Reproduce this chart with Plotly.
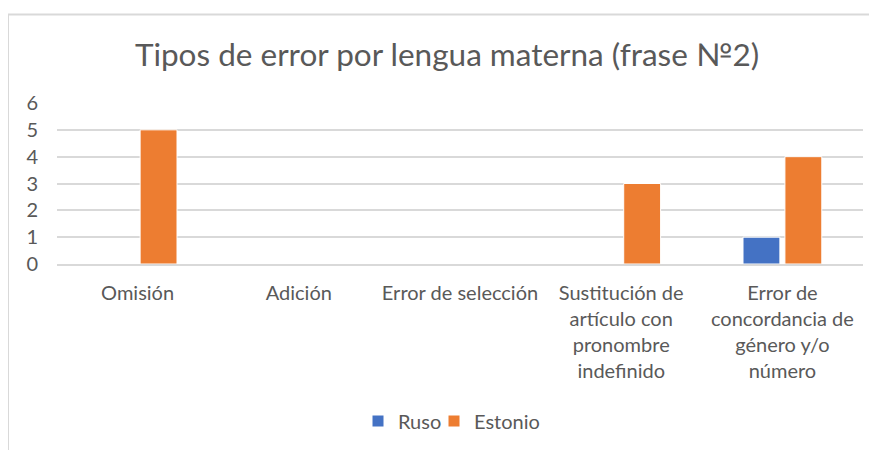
import plotly.graph_objects as go

categories = [
    "Omisión",
    "Adición",
    "Error de selección",
    "Sustitución de<br>artículo con<br>pronombre<br>indefinido",
    "Error de<br>concordancia de<br>género y/o<br>número",
]
ruso = [0, 0, 0, 0, 1]
estonio = [5, 0, 0, 3, 4]
y_ticks = [0, 1, 2, 3, 4, 5, 6]

# page offset of the figure inside the browser (body margin)
OFF = 8
W, H = 877 - OFF, 450 - OFF
# reference pixel positions of plot area
PL, PR, PT, PB = 57, 863, 103, 265
L, R, T, B = PL - OFF, W - (PR - OFF), PT - OFF, H - (PB - OFF)
pw, ph = W - L - R, H - T - B


def px_x(p):
    return (p - OFF - L) / pw


def px_y(p):
    return (H - B - (p - OFF)) / ph


FONT = "Lato"
GREY = "#595959"
TS = 20

fig = go.Figure()
fig.add_trace(go.Bar(name="Ruso", x=categories, y=ruso, marker_color="#4472C4",
                     marker_line=dict(color="white", width=1), legend="legend"))
fig.add_trace(go.Bar(name="Estonio", x=categories, y=estonio, marker_color="#ED7D31",
                     marker_line=dict(color="white", width=1), legend="legend2"))

leg_common = dict(orientation="h", xanchor="left", y=px_y(421), yanchor="middle",
                  font=dict(family=FONT, size=TS, color=GREY), bgcolor="rgba(0,0,0,0)")

fig.update_layout(
    width=W, height=H,
    margin=dict(l=L, r=R, t=T, b=B),
    paper_bgcolor="white", plot_bgcolor="white",
    barmode="group", bargap=0.48, bargroupgap=0.12,
    font=dict(family=FONT, color=GREY, size=TS),
    title=dict(text="Tipos de error por lengua materna (frase №2)",
               font=dict(family=FONT, size=31.5, color=GREY),
               x=(447 - OFF) / W, xanchor="center", xref="container",
               y=1 - (55 - OFF) / H, yanchor="middle", yref="container"),
    showlegend=True,
    legend=dict(x=px_x(358), **leg_common),
    legend2=dict(x=px_x(434), **leg_common),
    xaxis=dict(showgrid=False, showline=True, linecolor="#d9d9d9", linewidth=1.5,
               tickangle=0, ticks="", ticklabelstandoff=10,
               tickfont=dict(family=FONT, size=TS, color=GREY)),
    yaxis=dict(range=[0, 6], tickvals=y_ticks, showgrid=True, gridcolor="#d9d9d9",
               gridwidth=1.5, zeroline=False, showline=False, ticks="",
               ticklabelstandoff=18,
               tickfont=dict(family=FONT, size=TS, color=GREY)),
    shapes=[
        dict(type="line", xref="paper", yref="paper",
             x0=px_x(8), x1=px_x(890), y0=px_y(14), y1=px_y(14),
             line=dict(color="#d9d9d9", width=2)),
        dict(type="line", xref="paper", yref="paper",
             x0=px_x(8), x1=px_x(8), y0=px_y(14), y1=px_y(460),
             line=dict(color="#d9d9d9", width=2)),
    ],
)

fig.write_html("out.html")
